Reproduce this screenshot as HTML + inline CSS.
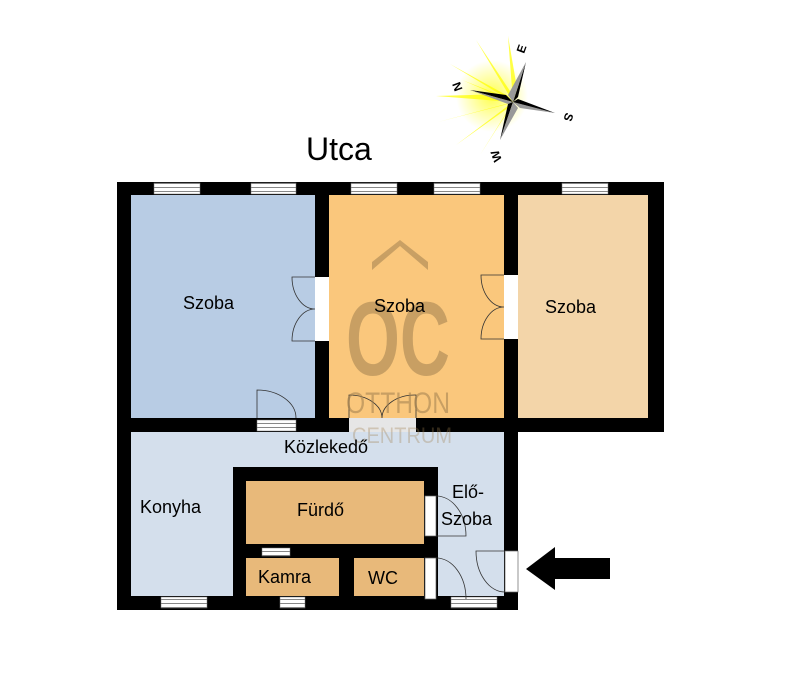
<!DOCTYPE html>
<html><head><meta charset="utf-8"><style>
html,body{margin:0;padding:0;background:#fff;width:800px;height:687px;overflow:hidden}
svg text{font-family:"Liberation Sans",sans-serif}
</style></head><body>
<svg width="800" height="687" viewBox="0 0 800 687" xmlns="http://www.w3.org/2000/svg">
<defs>
<pattern id="win" width="4" height="4" patternUnits="userSpaceOnUse"><rect width="4" height="4" fill="#fff"/><rect y="3" width="4" height="1" fill="#888"/></pattern>
<radialGradient id="glow" cx="0.5" cy="0.5" r="0.5"><stop offset="0" stop-color="#ffff00" stop-opacity="1"/><stop offset="1" stop-color="#ffff00" stop-opacity="0"/></radialGradient>
</defs>
<!-- compass rays -->
<g fill="#ffff33" opacity="0.9">
<polygon points="513,102 436,96 505,94"/>
<polygon points="513,102 438,122 508,104"/>
<polygon points="513,102 450,64 508,96"/>
<polygon points="513,102 476,40 512,94"/>
<polygon points="513,102 456,145 508,108"/>
<polygon points="513,102 508,36 518,94"/>
<polygon points="513,102 480,155 510,108"/>
<polygon points="513,102 462,80 508,98"/>
</g>
<circle cx="492" cy="96" r="36" fill="url(#glow)" opacity="0.7"/>
<!-- star -->
<polygon points="513,102 470,90 506,95" fill="#000"/>
<polygon points="513,102 470,90 508,104" fill="#999"/>
<polygon points="513,102 526,62 518,97" fill="#000"/>
<polygon points="513,102 526,62 508,95" fill="#999"/>
<polygon points="513,102 555,113 520,108" fill="#999"/>
<polygon points="513,102 555,113 518,99" fill="#000"/>
<polygon points="513,102 500,140 508,104" fill="#000"/>
<polygon points="513,102 500,140 518,108" fill="#999"/>
<text x="0" y="0" font-size="12" font-weight="bold" transform="translate(452,84) rotate(70)">N</text>
<text x="0" y="0" font-size="12" font-weight="bold" transform="translate(524,54) rotate(-70)">E</text>
<text x="0" y="0" font-size="12" font-weight="bold" transform="translate(566,112) rotate(110)">S</text>
<text x="0" y="0" font-size="12" font-weight="bold" transform="translate(502,160) rotate(-110)">W</text>
<text x="306" y="160" font-size="32">Utca</text>

<!-- floors -->
<rect x="117" y="182" width="547" height="250" fill="#000"/>
<rect x="117" y="418" width="401" height="192" fill="#000"/>
<rect x="131" y="195" width="184" height="223" fill="#b8cce4"/>
<rect x="329" y="195" width="175" height="223" fill="#fac77c"/>
<rect x="518" y="195" width="130" height="223" fill="#f3d5a9"/>
<rect x="131" y="432" width="373" height="164" fill="#d4dfec"/>
<rect x="233" y="467" width="205" height="131" fill="#000"/>
<rect x="246" y="481" width="178" height="63" fill="#e8b97a"/>
<rect x="246" y="558" width="93" height="38" fill="#e8b97a"/>
<rect x="354" y="558" width="70" height="38" fill="#e8b97a"/>

<!-- windows -->
<g fill="url(#win)" stroke="#777" stroke-width="0.5">
<rect x="154" y="183" width="46" height="11"/>
<rect x="251" y="183" width="45" height="11"/>
<rect x="351" y="183" width="46" height="11"/>
<rect x="434" y="183" width="46" height="11"/>
<rect x="562" y="183" width="46" height="11"/>
<rect x="161" y="597" width="46" height="11"/>
<rect x="280" y="597" width="25" height="11"/>
<rect x="451" y="597" width="46" height="11"/>
<rect x="257" y="420" width="39" height="11"/>
<rect x="262" y="548" width="28" height="8"/>
</g>
<!-- door openings -->
<rect x="315" y="277" width="14" height="64" fill="#fff"/>
<rect x="504" y="275" width="14" height="64" fill="#fff"/>
<rect x="349" y="418" width="67" height="14" fill="#e6e6e6"/>
<rect x="505" y="551" width="13" height="41" fill="#fff" stroke="#666" stroke-width="0.7"/>
<rect x="425" y="496" width="11" height="40" fill="#fff" stroke="#666" stroke-width="0.7"/>
<rect x="425" y="558" width="11" height="41" fill="#fff" stroke="#666" stroke-width="0.7"/>
<!-- door swings -->
<g fill="none" stroke="#333" stroke-width="0.8">
<path d="M315,277 H292 A23,32 0 0 0 315,309 M315,341 H292 A23,32 0 0 1 315,309"/>
<path d="M504,275 H481 A23,32 0 0 0 504,307 M504,339 H481 A23,32 0 0 1 504,307"/>
<path d="M257,418 V390 A39,28 0 0 1 296,418"/>
<path d="M349,418 V395 A33,23 0 0 1 382,418 M416,418 V395 A33,23 0 0 0 382,418"/>
<path d="M505,551 H476 A29,41 0 0 0 505,592"/>
<path d="M436,496 A30,40 0 0 1 466,536 H436"/>
<path d="M436,558 A30,41 0 0 1 466,599"/>
</g>
<!-- watermark -->
<g fill="#a08050" opacity="0.55">
<polygon points="372,270 400,246 428,270 428,262 400,240 372,262"/>
<text x="346" y="375" font-size="105" font-weight="bold" textLength="104" lengthAdjust="spacingAndGlyphs">OC</text>
<text x="346" y="413" font-size="30" textLength="104" lengthAdjust="spacingAndGlyphs">OTTHON</text>
<text x="352" y="443" font-size="22" opacity="0.6" textLength="100" lengthAdjust="spacingAndGlyphs">CENTRUM</text>
</g>
<!-- labels -->
<g font-size="18" fill="#000">
<text x="183" y="309">Szoba</text>
<text x="374" y="312">Szoba</text>
<text x="545" y="313">Szoba</text>
<text x="284" y="453">Közlekedő</text>
<text x="140" y="513">Konyha</text>
<text x="297" y="516">Fürdő</text>
<text x="452" y="498">Elő-</text>
<text x="441" y="525">Szoba</text>
<text x="258" y="583">Kamra</text>
<text x="368" y="584">WC</text>
</g>
<!-- arrow -->
<polygon points="526,569 555,547 555,558 610,558 610,579 555,579 555,590" fill="#000"/>
</svg>
</body></html>
